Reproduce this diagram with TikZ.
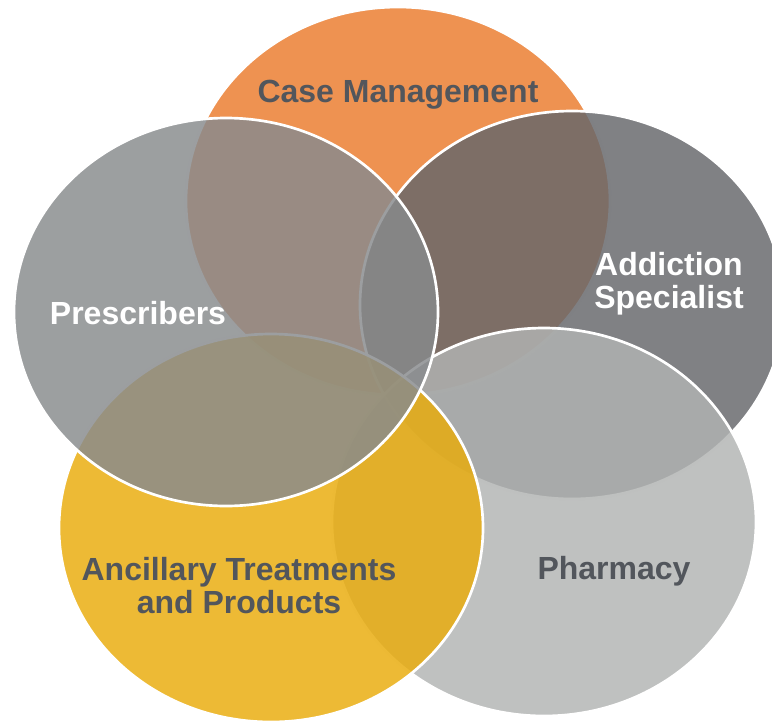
\documentclass[tikz,border=0pt]{standalone}
\usepackage{fontspec}
\setmainfont{Liberation Sans}
\usetikzlibrary{shapes.geometric}
\definecolor{cmOrange}{RGB}{234,124,46}
\definecolor{asGray}{RGB}{102,103,107}
\definecolor{prGray}{RGB}{136,139,141}
\definecolor{anYellow}{RGB}{233,172,12}
\definecolor{phGray}{RGB}{178,180,179}
\definecolor{darktext}{RGB}{82,86,92}
\begin{document}
\begin{tikzpicture}[x=0.75pt,y=-0.75pt,
  venn/.style={ellipse, draw=white, line width=2pt, fill opacity=0.83,
    minimum width=318pt, minimum height=291pt, inner sep=0pt, outer sep=0pt},
  lbl/.style={font=\fontsize{24}{24.75}\selectfont\bfseries, align=center, inner sep=0pt}]
\useasboundingbox (0,0) rectangle (772,722);
\node[venn, fill=cmOrange] (casemgmt) at (398,201) {};
\node[venn, fill=asGray] (addiction) at (572,305) {};
\node[venn, fill=phGray] (pharmacy) at (544,522) {};
\node[venn, fill=anYellow] (ancillary) at (271,528) {};
\node[venn, fill=prGray] (prescribers) at (226,312) {};
\node[lbl, text=darktext, anchor=base] (tcase) at (398,102) {Case Management};
\node[lbl, text=white, anchor=base] (taddiction) at (669,308) {Addiction\\Specialist};
\node[lbl, text=white, anchor=base] (tprescribers) at (138,324) {Prescribers};
\node[lbl, text=darktext, anchor=base] (tancillary) at (239,613) {Ancillary Treatments\\and Products};
\node[lbl, text=darktext, anchor=base] (tpharmacy) at (614,579) {Pharmacy};
\end{tikzpicture}
\end{document}
